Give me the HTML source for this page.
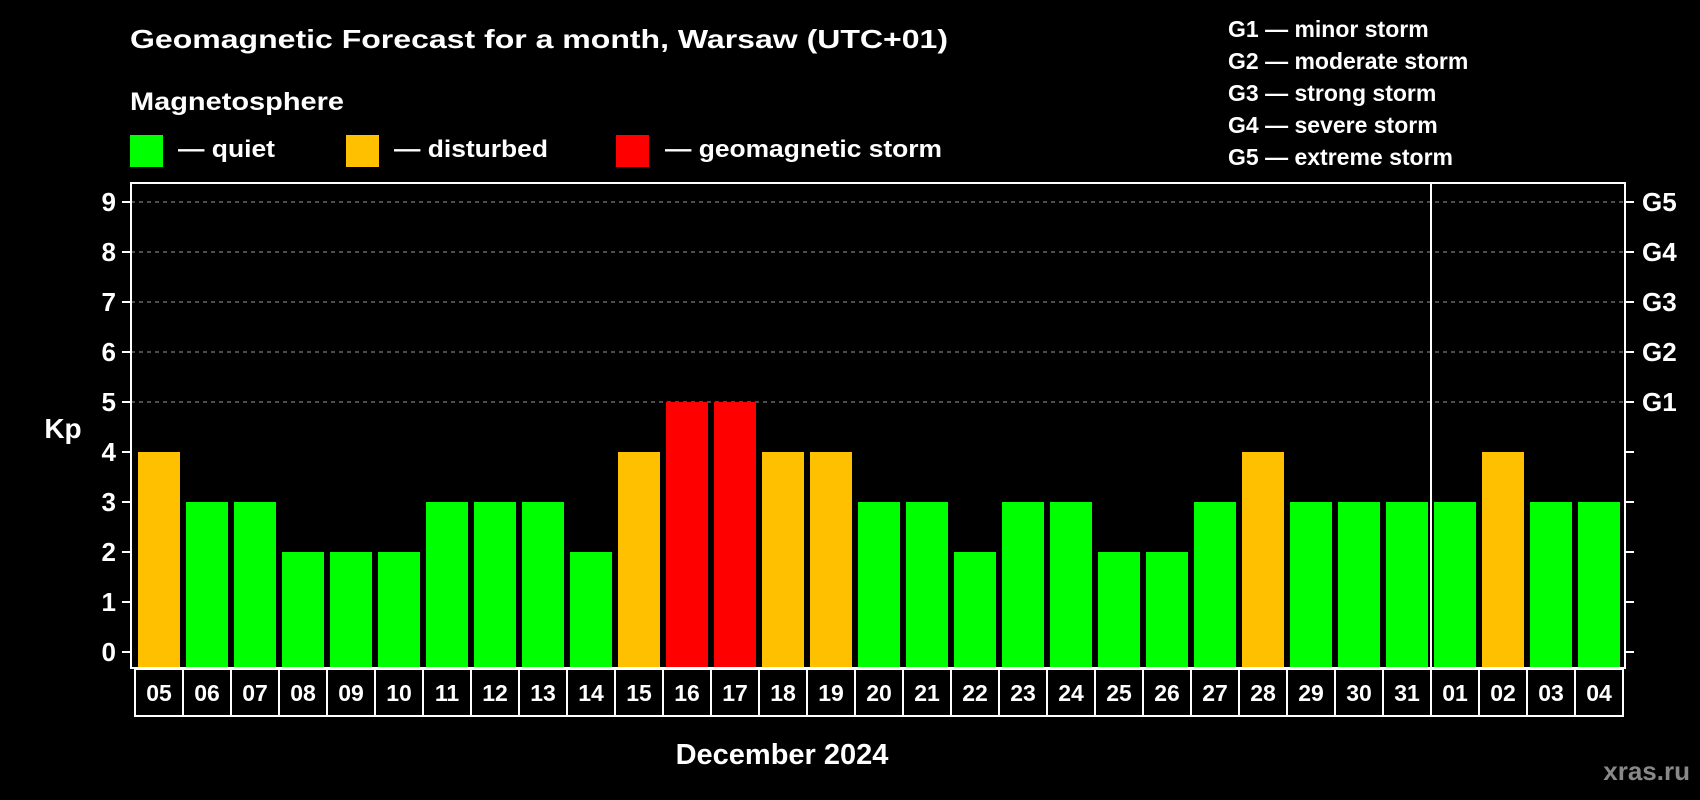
<!DOCTYPE html>
<html><head><meta charset="utf-8"><style>
html,body{margin:0;padding:0;background:#000;}
svg{display:block;font-family:"Liberation Sans",Arial,sans-serif;font-weight:bold;}
</style></head><body>
<svg id="chart" width="1700" height="800" viewBox="0 0 1700 800" xmlns="http://www.w3.org/2000/svg">
<rect width="1700" height="800" fill="#000"/>
<text x="130" y="48" fill="#fff" font-size="26" textLength="818" lengthAdjust="spacingAndGlyphs">Geomagnetic Forecast for a month, Warsaw (UTC+01)</text>
<text x="130" y="110" fill="#fff" font-size="25" textLength="214" lengthAdjust="spacingAndGlyphs">Magnetosphere</text>
<g>
<rect x="130" y="135" width="33" height="32" fill="#00ff00"/>
<text x="178" y="157" fill="#fff" font-size="24" textLength="97" lengthAdjust="spacingAndGlyphs">— quiet</text></g>
<g>
<rect x="346" y="135" width="33" height="32" fill="#ffc000"/>
<text x="394" y="157" fill="#fff" font-size="24" textLength="154" lengthAdjust="spacingAndGlyphs">— disturbed</text></g>
<g>
<rect x="616" y="135" width="33" height="32" fill="#ff0000"/>
<text x="665" y="157" fill="#fff" font-size="24" textLength="277" lengthAdjust="spacingAndGlyphs">— geomagnetic storm</text></g>
<g font-size="23" fill="#fff">
<text x="1228" y="37">G1 — minor storm</text>
<text x="1228" y="69">G2 — moderate storm</text>
<text x="1228" y="101">G3 — strong storm</text>
<text x="1228" y="133">G4 — severe storm</text>
<text x="1228" y="165">G5 — extreme storm</text>
</g>
<g id="grid"></g>
<g id="bars"></g>
<g id="axes"></g>
<text x="63" y="438" fill="#fff" font-size="28" text-anchor="middle">Kp</text>
<text x="782" y="764" fill="#fff" font-size="29" text-anchor="middle">December 2024</text>
<text x="1690" y="780" fill="#888" font-size="26" text-anchor="end">xras.ru</text>
</svg>
<script>
const days = ["05","06","07","08","09","10","11","12","13","14","15","16","17","18","19","20","21","22","23","24","25","26","27","28","29","30","31","01","02","03","04"];
const kpValues = [4,3,3,2,2,2,3,3,3,2,4,5,5,4,4,3,3,2,3,3,2,2,3,4,3,3,3,3,4,3,3];
const yTicks = [0,1,2,3,4,5,6,7,8,9];
const gLabels = ["G1","G2","G3","G4","G5"];
const monthBreakIndex = 27;

const NS = "http://www.w3.org/2000/svg";
const boxL = 131, boxR = 1625, boxT = 183, boxB = 668, slotX0 = 135, slotW = 48;
function y(v){ return 652 - v * 50; }
function x(i){ return slotX0 + i * slotW; }
function mk(tag, attrs, parent){ const e = document.createElementNS(NS, tag); for (const k in attrs) e.setAttribute(k, attrs[k]); parent.appendChild(e); return e; }
function color(v){ return v >= 5 ? "#ff0000" : (v >= 4 ? "#ffc000" : "#00ff00"); }

const grid = document.getElementById("grid");
const bars = document.getElementById("bars");
const axes = document.getElementById("axes");

yTicks.forEach(t => {
  if (t >= 5) {
    const gl = mk("line", {x1: boxL, x2: boxR, y1: y(t), y2: y(t), stroke: "#999", "stroke-width": 1, "stroke-dasharray": "4,4"}, grid);
    
    
  }
  const lt = mk("line", {x1: 122, x2: boxL, y1: y(t), y2: y(t), stroke: "#fff", "stroke-width": 2}, axes);
  
  
  const rt = mk("line", {x1: boxR, x2: 1634, y1: y(t), y2: y(t), stroke: "#fff", "stroke-width": 2}, axes);
  
  
  const lab = mk("text", {x: 116, y: y(t) + 9, fill: "#fff", "font-size": 26, "text-anchor": "end"}, axes);
  lab.textContent = t;
  
  
});
gLabels.forEach((g, i) => {
  const gt = mk("text", {x: 1642, y: y(5 + i) + 9, fill: "#fff", "font-size": 26}, axes);
  gt.textContent = g;
  
  
});

kpValues.forEach((v, i) => {
  const b = mk("rect", {x: x(i) + 3, y: y(v), width: 42, height: boxB - y(v), fill: color(v)}, bars);
  
  
});

const frame = mk("rect", {x: boxL, y: boxT, width: boxR - boxL, height: boxB - boxT, fill: "none", stroke: "#fff", "stroke-width": 2}, axes);


const sep = mk("line", {x1: x(monthBreakIndex), x2: x(monthBreakIndex), y1: boxT, y2: boxB, stroke: "#fff", "stroke-width": 2}, axes);



days.forEach((d, i) => {
  const c = mk("rect", {x: x(i), y: 669, width: slotW, height: 47, fill: "#000", stroke: "#fff", "stroke-width": 2}, axes);
  
  
  const t = mk("text", {x: x(i) + slotW / 2, y: 701, fill: "#fff", "font-size": 23, "text-anchor": "middle"}, axes);
  t.textContent = d;
  
  
});
</script>
</body></html>
